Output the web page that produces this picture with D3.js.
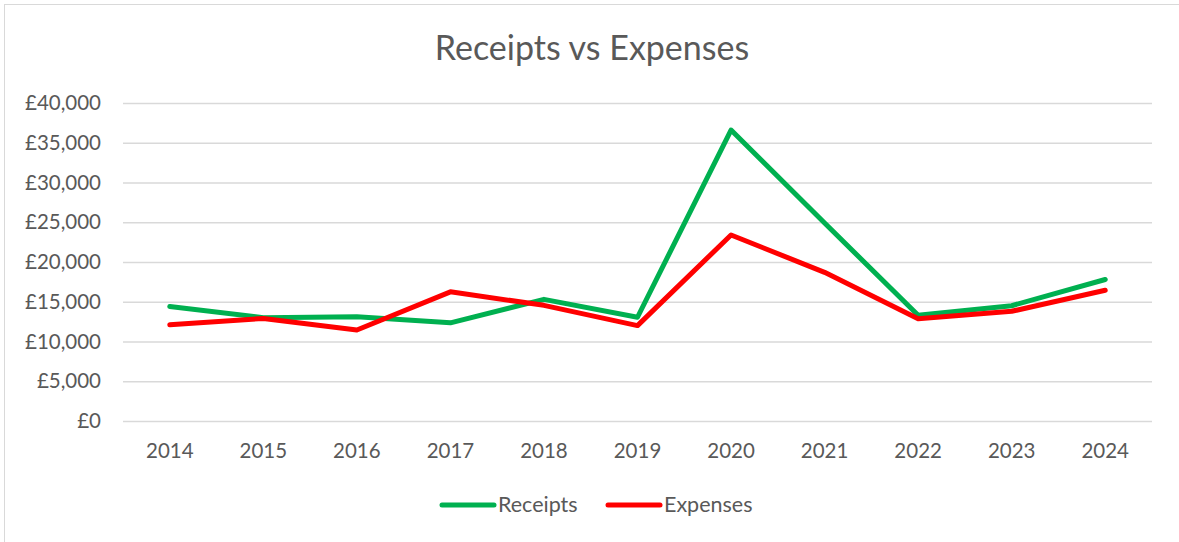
<!DOCTYPE html>
<html>
<head>
<meta charset="utf-8">
<script src="https://cdn.jsdelivr.net/npm/d3@7"></script>
<style>
  body { margin: 0; background: #fff; }
</style>
</head>
<body>
<div id="vis"></div>
<script>
// data
const years = ["2014", "2015", "2016", "2017", "2018", "2019", "2020", "2021", "2022", "2023", "2024"];
const receipts = [14400, 13000, 13100, 12350, 15300, 13050, 36600, 24900, 13300, 14500, 17800];
const expenses = [12100, 12900, 11450, 16250, 14550, 12000, 23400, 18700, 12850, 13800, 16450];
const yTicks = [0, 5000, 10000, 15000, 20000, 25000, 30000, 35000, 40000];

const width = 1179;
const height = 542;
const margin = ({top: 103, right: 27, bottom: 121, left: 123});
const font = "Lato, 'Open Sans', sans-serif";
const textColor = '#595959';

const svg = d3.create('svg')
    .attr('width', width)
    .attr('height', height);

// chart area border
svg.append('rect')
    .attr('x', 4.5)
    .attr('y', 4.5)
    .attr('width', width + 10)
    .attr('height', height + 10)
    .attr('fill', 'white')
    .attr('stroke', '#d9d9d9');

const xScale = d3.scaleBand()
    .domain(years)
    .range([margin.left, width - margin.right]);

const yScale = d3.scaleLinear()
    .domain([0, 40000])
    .range([height - margin.bottom, margin.top]);

// gridlines + y labels
const yAxis = svg.append('g')
    .attr('transform', `translate(${margin.left}, 0)`)
    .call(d3.axisLeft(yScale)
        .tickValues(yTicks)
        .tickSize(-(width - margin.left - margin.right))
        .tickPadding(22)
        .tickFormat(d => '£' + d3.format(',')(d)))
    .call(g => g.select('.domain').remove());

yAxis.selectAll('.tick line')
    .attr('stroke', '#d9d9d9')
    .attr('stroke-width', 1.3);
yAxis.selectAll('.tick text')
    .attr('fill', textColor)
    .attr('font-family', font)
    .attr('font-size', 20.5);

// x axis labels
const xAxis = svg.append('g')
    .attr('transform', `translate(0, ${height - margin.bottom})`)
    .call(d3.axisBottom(xScale).tickSize(0).tickPadding(22))
    .call(g => g.select('.domain').remove());

xAxis.selectAll('.tick text')
    .attr('fill', textColor)
    .attr('font-family', font)
    .attr('font-size', 20.5);

// lines
const line = d3.line()
    .x((d, i) => xScale(years[i]) + xScale.bandwidth() / 2)
    .y(d => yScale(d));

const series = [
    {name: 'Receipts', values: receipts, color: '#00B050'},
    {name: 'Expenses', values: expenses, color: '#FF0000'}
];

svg.selectAll('.series')
    .data(series)
    .join('path')
    .attr('class', 'series')
    .attr('d', d => line(d.values))
    .attr('fill', 'none')
    .attr('stroke', d => d.color)
    .attr('stroke-width', 5)
    .attr('stroke-linejoin', 'round')
    .attr('stroke-linecap', 'round');

// title
svg.append('text')
    .attr('x', 592)
    .attr('y', 60)
    .attr('text-anchor', 'middle')
    .attr('font-family', font)
    .attr('font-size', 34)
    .attr('fill', textColor)
    .text('Receipts vs Expenses');

// legend
const legendX = [442, 608];
const legend = svg.selectAll('.legend')
    .data(series)
    .join('g')
    .attr('class', 'legend')
    .attr('transform', (d, i) => `translate(${legendX[i]}, 505)`);

legend.append('line')
    .attr('x1', 0)
    .attr('x2', 52)
    .attr('stroke', d => d.color)
    .attr('stroke-width', 5)
    .attr('stroke-linecap', 'round');

legend.append('text')
    .attr('x', 56)
    .attr('y', 7)
    .attr('font-family', font)
    .attr('font-size', 21.5)
    .attr('fill', textColor)
    .text(d => d.name);

document.getElementById('vis').appendChild(svg.node());
</script>
</body>
</html>
